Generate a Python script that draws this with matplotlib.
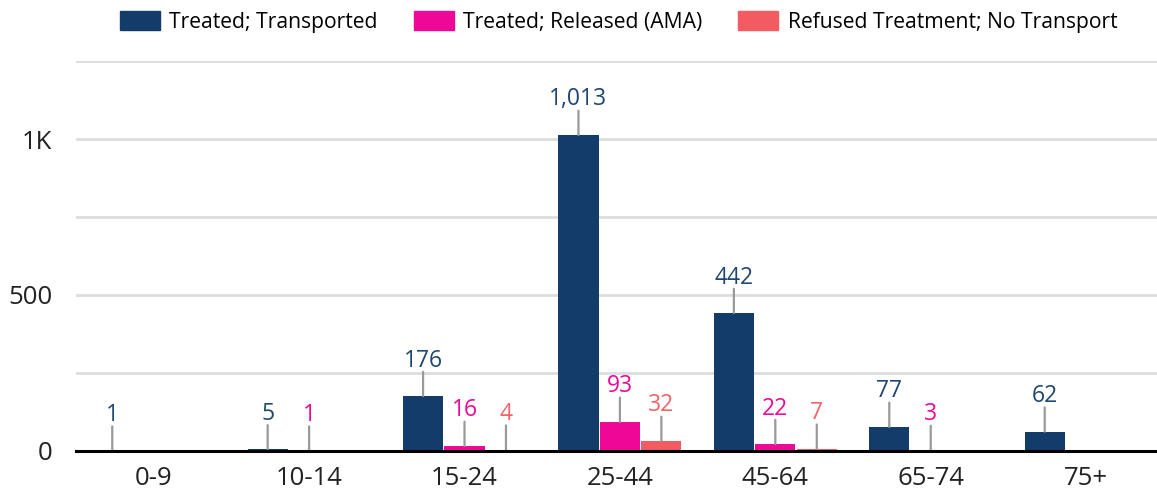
import matplotlib
matplotlib.use("Agg")
import matplotlib.pyplot as plt
import numpy as np
from matplotlib.patches import Patch
from matplotlib.ticker import FixedLocator, FuncFormatter

plt.rcParams['font.family'] = ['Open Sans', 'DejaVu Sans']

# data
age_groups = ["0-9", "10-14", "15-24", "25-44", "45-64", "65-74", "75+"]
series_names = ["Treated; Transported", "Treated; Released (AMA)", "Refused Treatment; No Transport"]
transported = [1, 5, 176, 1013, 442, 77, 62]
released_ama = [0, 1, 16, 93, 22, 3, 0]
refused = [0, 0, 4, 32, 7, 0, 0]

bar_colors = ["#133C6B", "#EE0898", "#F25B62"]
label_colors = ["#1F4670", "#EE0898", "#F26269"]

W, H = 1157, 491
fig = plt.figure(figsize=(W / 100, H / 100), dpi=100)
ax = fig.add_axes([76 / W, 40 / H, (W - 76) / W, 390 / H])

x = np.arange(len(age_groups))
slot = 0.8 / 3
for i, (vals, col, lcol) in enumerate(zip([transported, released_ama, refused], bar_colors, label_colors)):
    xs = x + (i - 1) * slot
    ax.bar(xs, vals, width=slot * 0.97, color=col, zorder=3)
    for xi, v in zip(xs, vals):
        if v == 0:
            continue
        # leader line + label above bar
        ax.annotate("", xy=(xi, v), xytext=(0, 17.5), textcoords="offset points",
                    xycoords="data",
                    arrowprops=dict(arrowstyle="-", color="#999999", lw=1.6,
                                    shrinkA=0, shrinkB=0), zorder=4)
        ax.annotate(f"{v:,}", xy=(xi, v), xytext=(0, 21.3), textcoords="offset points",
                    ha="center", va="baseline", fontsize=16.5, color=lcol, zorder=5)

ax.set_xlim(-0.5, 6.456)
ax.set_ylim(0, 1250)
ax.yaxis.set_major_locator(FixedLocator([0, 250, 500, 750, 1000, 1250]))
ax.yaxis.set_major_formatter(FuncFormatter(
    lambda v, p: {0: "0", 500: "500", 1000: "1K"}.get(int(v), "")))
ax.grid(axis="y", color="#DDDDDD", lw=2, zorder=0)
ax.set_xticks(x)
ax.set_xticklabels(age_groups)
ax.tick_params(axis="both", length=0, labelsize=18.5, colors="#222222")
ax.tick_params(axis="y", pad=17)
ax.tick_params(axis="x", pad=11)
for s in ["top", "right", "left"]:
    ax.spines[s].set_visible(False)
ax.spines["bottom"].set_color("black")
ax.spines["bottom"].set_linewidth(2.2)
ax.spines["bottom"].set_zorder(6)

handles = [Patch(color=c, label=n) for c, n in zip(bar_colors, series_names)]
fig.legend(handles=handles, loc="center", bbox_to_anchor=(618.5 / W, 1 - 22 / H),
           ncol=3, frameon=False, fontsize=15.2, handlelength=1.9, handleheight=0.95,
           handletextpad=0.45, columnspacing=1.7, borderpad=0, borderaxespad=0)

fig.savefig("out.png", dpi=100)
